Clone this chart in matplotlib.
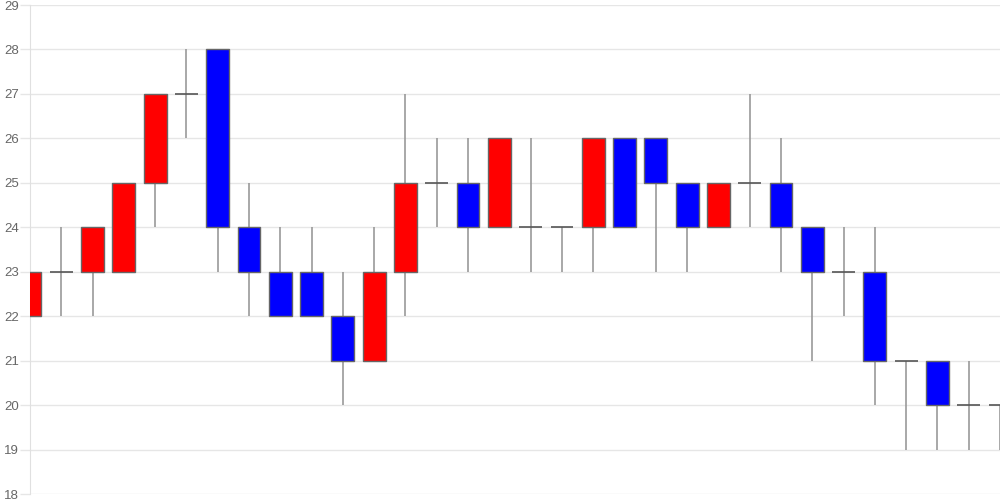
import matplotlib
matplotlib.use("Agg")
import matplotlib.pyplot as plt
import numpy as np

opens  = [22, 23, 23, 23, 25, 27, 28, 24, 23, 23, 22, 21, 23, 25, 25, 24, 24, 24, 24, 26, 26, 25, 24, 25, 25, 24, 23, 23, 21, 21, 20, 20]
highs  = [24, 24, 24, 25, 27, 28, 28, 25, 24, 24, 23, 24, 27, 26, 26, 26, 26, 24, 26, 26, 26, 25, 25, 27, 26, 24, 24, 24, 21, 21, 21, 20]
lows   = [22, 22, 22, 23, 24, 26, 23, 22, 22, 22, 20, 21, 22, 24, 23, 24, 23, 23, 23, 24, 23, 23, 24, 24, 23, 21, 22, 20, 19, 19, 19, 19]
closes = [23, 23, 24, 25, 27, 27, 24, 23, 22, 22, 21, 23, 25, 25, 24, 26, 24, 24, 26, 24, 25, 24, 25, 25, 24, 23, 23, 21, 21, 20, 20, 20]
yticks = list(range(18, 30))

plt.rcParams['font.family'] = ['Liberation Sans', 'DejaVu Sans']
fig = plt.figure(figsize=(10, 5), dpi=100)
ax = fig.add_axes([0.03, 0.012, 0.97, 0.978])

x = np.arange(len(opens))
o = np.array(opens); c = np.array(closes); h = np.array(highs); l = np.array(lows)
w = 0.73

ax.vlines(x, l, h, color='#999999', linewidth=1.2, zorder=2)
up = c > o
down = c < o
doji = c == o
ax.bar(x[up], (c - o)[up], bottom=o[up], width=w, color='#ff0000', edgecolor='#666666', linewidth=1, zorder=3)
ax.bar(x[down], (o - c)[down], bottom=c[down], width=w, color='#0000ff', edgecolor='#666666', linewidth=1, zorder=3)
ax.hlines(c[doji], x[doji] - w / 2, x[doji] + w / 2, color='#555555', linewidth=1.2, zorder=3)

ax.set_xlim(0, len(opens) - 1)
ax.set_ylim(18, 29)
ax.set_yticks(yticks)
ax.set_xticks([])
ax.grid(axis='y', color='#e6e6e6', linewidth=1, zorder=0)
ax.set_axisbelow(True)
for s in ['top', 'right', 'bottom']:
    ax.spines[s].set_visible(False)
ax.spines['left'].set_color('#e0e0e0')
ax.tick_params(axis='y', length=7, width=1, color='#e6e6e6', pad=1, labelsize=9.5, labelcolor='#666666')

fig.savefig('out.png', dpi=100)
